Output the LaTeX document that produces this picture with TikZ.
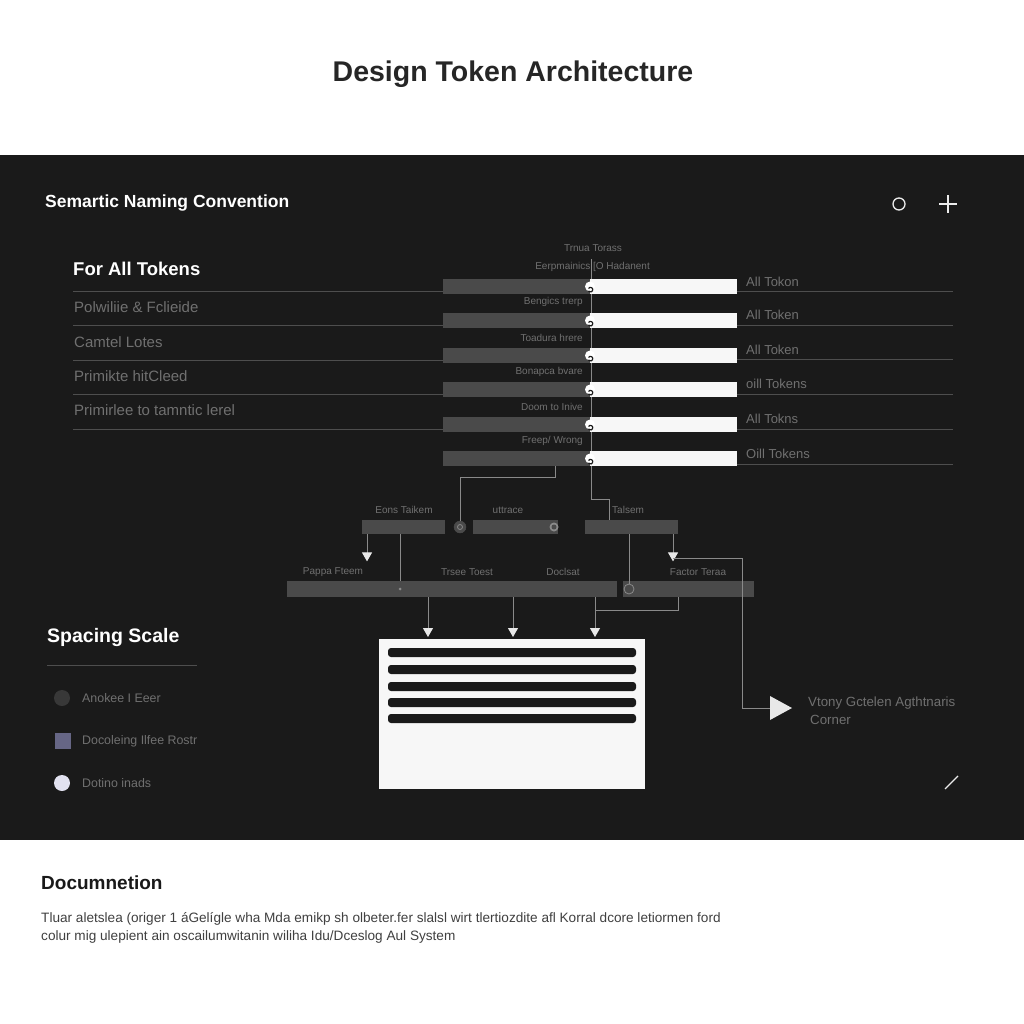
\documentclass[tikz,border=0pt]{standalone}
\usepackage{fontspec}
\setmainfont{Liberation Sans}
\usetikzlibrary{arrows.meta,calc}
\definecolor{panel}{HTML}{1A1A1A}
\definecolor{barg}{HTML}{4A4A4A}
\definecolor{lineg}{HTML}{4E4E4E}
\definecolor{txtg}{HTML}{707070}
\definecolor{conng}{HTML}{8A8A8A}
\definecolor{tipw}{HTML}{E8E8E8}
\tikzset{
  fs/.style={font=\fontsize{#1}{#1}\selectfont},
  bfs/.style={font=\bfseries\fontsize{#1}{#1}\selectfont},
  heading/.style={text=white,anchor=west,inner sep=0pt},
  gtext/.style={text=txtg,anchor=west,inner sep=0pt,fs=15},
  stext/.style={text=txtg,inner sep=0pt,fs=10},
  rule/.style={draw=lineg,line width=1pt},
  graybar/.style={fill=barg,anchor=north west,inner sep=0pt,minimum height=15pt},
  whitebar/.style={fill=white!94!gray,anchor=north west,inner sep=0pt,minimum height=15pt},
  knob/.style={circle,fill=white,inner sep=0pt,minimum size=10pt},
  midbox/.style={fill=barg,anchor=north west,inner sep=0pt,minimum height=14pt},
  conn/.style={draw=conng,line width=1pt},
  arr/.style={conn,-{Triangle[width=10pt,length=9pt,fill=tipw,color=tipw]}},
}
\begin{document}
\begin{tikzpicture}[x=1pt,y=-1pt]
\useasboundingbox (0,0) rectangle (1024,1024);
\fill[white] (0,0) rectangle (1024,1024);
\fill[panel] (0,155) rectangle (1024,840);

% title
\node[inner sep=0pt,bfs=28.5,text=black!85] (title) at (513,74) {Design Token Architecture};

% panel header
\node[heading,bfs=17.5] (sem) at (45,203) {Semartic Naming Convention};
\node[circle,draw=white!85!gray,line width=1.3pt,inner sep=0pt,minimum size=12pt] (ico1) at (899,204) {};
\coordinate (ico2) at (948,204);
\draw[white!85!gray,line width=1.5pt] ([xshift=-9pt]ico2) -- ([xshift=9pt]ico2) ([yshift=-9pt]ico2) -- ([yshift=9pt]ico2);

% For All Tokens
\node[heading,bfs=18.5] (fat) at (73,269) {For All Tokens};
\foreach \y in {291,325,360,394,429} \draw[rule] (73,\y) -- (443,\y);
\node[gtext] (l1) at (74,307) {Polwiliie \& Fclieide};
\node[gtext] (l2) at (74,342) {Camtel Lotes};
\node[gtext] (l3) at (74,376) {Primikte hitCleed};
\node[gtext] (l4) at (74,410) {Primirlee to tamntic lerel};

% right rules and labels
\foreach \y in {291,325,359,394,429,464} \draw[rule] (737,\y) -- (953,\y);
\node[gtext,fs=13] (r1) at (746,282) {All Tokon};
\node[gtext,fs=13] (r2) at (746,315) {All Token};
\node[gtext,fs=13] (r3) at (746,350) {All Token};
\node[gtext,fs=13] (r4) at (746,384) {oill Tokens};
\node[gtext,fs=13] (r5) at (746,419) {All Tokns};
\node[gtext,fs=13] (r6) at (746,454) {Oill Tokens};

% central spine
\coordinate (spTop) at (591,259);
\coordinate (spBot) at (591,499);
\draw[conn] (spTop) -- (spBot);

% labels above bars
\node[stext] (t0) at (593,248) {Trnua Torass};
\node[stext,anchor=east] (t1) at (650,267) {Eerpmainics [O Hadanent};
\node[stext,anchor=east] (t2) at (583,302) {Bengics trerp};
\node[stext,anchor=east] (t3) at (583,338) {Toadura hrere};
\node[stext,anchor=east] (t4) at (583,372) {Bonapca bvare};
\node[stext,anchor=east] (t5) at (583,407) {Doom to Inive};
\node[stext,anchor=east] (t6) at (583,441) {Freep/ Wrong};

% bars
\foreach \i/\y in {1/279,2/313,3/348,4/382,5/417,6/451}{
  \node[graybar,minimum width=147pt] (b\i l) at (443,\y) {};
  \node[whitebar,minimum width=147pt] (b\i r) at (590,\y) {};
  \node[knob] (k\i) at (590,\y+7.5) {};
  \draw[panel,line width=1.2pt] ([xshift=-1.5pt,yshift=-2pt]k\i.center) arc (150:-150:2.3pt);
}

% middle row
\node[midbox,minimum width=83pt] (mA) at (362,520) {};
\node[midbox,minimum width=85pt] (mB) at (473,520) {};
\node[midbox,minimum width=93pt] (mC) at (585,520) {};
\node[circle,fill=barg,draw=black!70,inner sep=0pt,minimum size=12pt] (cA) at (460,527) {};
\node[circle,draw=conng,line width=0.8pt,inner sep=0pt,minimum size=5pt] at (cA) {};
\node[circle,fill=conng,inner sep=0pt,minimum size=9pt] (cB) at (554,527) {};
\fill[barg] (cB.center) circle (2.5pt);
\node[stext] (mAl) at (404,510) {Eons Taikem};
\node[stext] (mBl) at (508,510) {uttrace};
\node[stext,anchor=west] (mCl) at (612,510) {Talsem};

% connectors bars -> middle
\draw[conn] ([xshift=112pt]b6l.south west) |- ($(cA.north)+(0,-43)$) -- (cA.north);
\draw[conn] (spBot) -| ([xshift=24pt]mC.north west);

% bottom row
\node[graybar,minimum width=330pt,minimum height=16pt] (bb1) at (287,581) {};
\node[graybar,minimum width=131pt,minimum height=16pt] (bb2) at (623,581) {};
\node[circle,fill=barg,draw=conng,line width=0.8pt,inner sep=0pt,minimum size=10pt] (cC) at (629,589) {};
\fill[conng] (400,589) circle (1.5pt);
\node[stext] (p1) at (333,572) {Pappa Fteem};
\node[stext] (p2) at (467,572) {Trsee Toest};
\node[stext] (p3) at (563,572) {Doclsat};
\node[stext] (p4) at (698,572) {Factor Teraa};

% middle -> bottom
\draw[arr] ([xshift=5pt]mA.south west) -- ++(0,27);
\draw[conn] ([xshift=38pt]mA.south west) -- ([xshift=38pt]mA.south west |- bb1.north);
\draw[conn] (mC.south -| cC) -- (cC.north);
\coordinate (outTri) at (770,708);
\draw[arr] ([xshift=88pt]mC.south west) -- ++(0,27);
\draw[conn] (673,558) -- (742,558) |- (outTri);
\fill[tipw] (outTri) ++(0,-12) -- ++(22,12) -- ++(-22,12) -- cycle;

% white box
\node[fill=white!94!gray,anchor=north west,inner sep=0pt,minimum width=266pt,minimum height=150pt] (wb) at (379,639) {};
\foreach \y in {648,665,682,698,714}
  \fill[panel,rounded corners=3pt] (388,\y) rectangle (636,\y+9);

% bottom -> box
\draw[arr] (bb1.south -| 428,0) -- (428,637);
\draw[arr] (bb1.south -| 513,0) -- (513,637);
\draw[arr] (bb1.south -| 595,0) -- (595,637);
\draw[conn] (595,610) -| (bb2.south -| 678,0);

% output label
\node[gtext,fs=13.3] (o1) at (808,703) {Vtony Gctelen Agthtnaris};
\node[gtext,fs=13.3] (o2) at (810,720) {Corner};
\draw[white!85!gray,line width=1.2pt] (945,789) -- (958,776);

% spacing scale
\node[heading,bfs=19.5] (ss) at (47,637) {Spacing Scale};
\draw[rule] (47,665) -- (197,665);
\node[circle,fill=barg!110,inner sep=0pt,minimum size=16pt] (g1) at (62,698) {};
\node[fill=black!40!blue!20!gray,inner sep=0pt,minimum size=16pt] (g2) at (63,741) {};
\node[circle,fill=blue!6!white!88!gray,inner sep=0pt,minimum size=16pt] (g3) at (62,783) {};
\node[gtext,fs=12.4] (g1l) at (82,698) {Anokee I Eeer};
\node[gtext,fs=12.4] (g2l) at (82,741) {Docoleing Ilfee Rostr};
\node[gtext,fs=12.4] (g3l) at (82,783) {Dotino inads};

% documentation
\node[anchor=west,inner sep=0pt,bfs=19,text=black!90] (doc) at (41,883) {Documnetion};
\node[anchor=west,inner sep=0pt,fs=13.6,text=black!75] (d1) at (41,919) {Tluar aletslea (origer 1 áGelígle wha Mda emikp sh olbeter.fer slalsl wirt tlertiozdite afl Korral dcore letiormen ford};
\node[anchor=west,inner sep=0pt,fs=13.6,text=black!75] (d2) at (41,937) {colur mig ulepient ain oscailumwitanin wiliha Idu/Dceslog Aul System};
\end{tikzpicture}
\end{document}
